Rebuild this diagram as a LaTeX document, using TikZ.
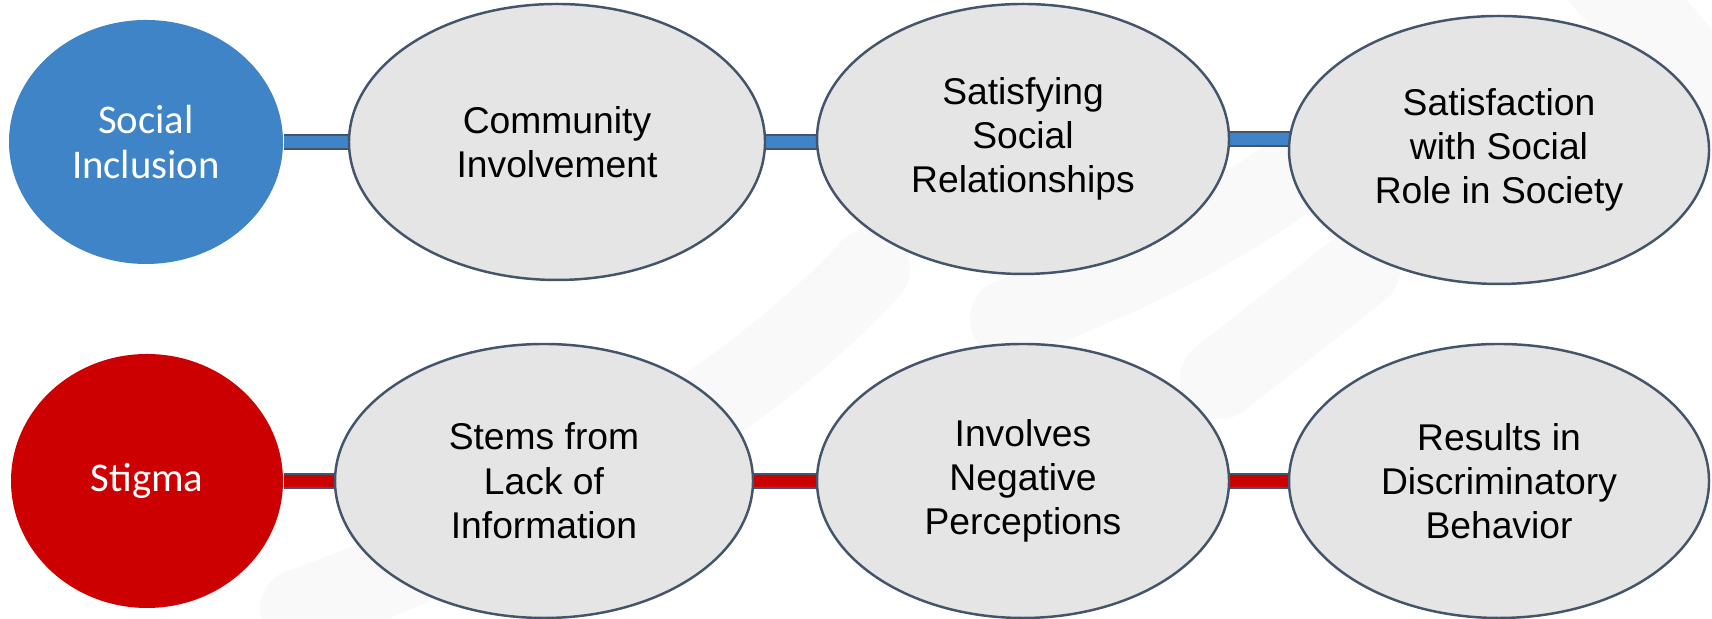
\documentclass[tikz,border=0pt]{standalone}
\usepackage{fontspec}
\setmainfont{Liberation Sans}
\newfontfamily\calibri{Carlito}
\usepackage{tikz}
\usetikzlibrary{shapes.geometric,backgrounds}
\definecolor{inclblue}{RGB}{62,132,198}
\definecolor{stigred}{RGB}{204,0,0}
\definecolor{ovalgray}{RGB}{229,229,229}
\definecolor{slate}{RGB}{68,84,106}
\definecolor{swoosh}{RGB}{249,249,249}
\tikzstyle{oval} = [ellipse, draw=slate, line width=0.7pt, fill=ovalgray, inner sep=0pt, align=center, font=\fontsize{10.6}{12.6}\selectfont]
\tikzstyle{head} = [ellipse, inner sep=0pt, align=center, text=white, font=\calibri\fontsize{11.6}{12.6}\selectfont]
\tikzstyle{bar} = [line width=0.6pt, draw=slate, double distance=0.12cm]

\begin{document}
\begin{tikzpicture}
	\useasboundingbox (0,0) rectangle (17.12,6.19);
	\begin{scope}[on background layer]
	\fill[white] (0,0) rectangle (17.12,6.19);
	% faint watermark
	\draw[swoosh, line width=0.8cm, line cap=round] (3.0,0.1) .. controls (5.5,1.0) and (7.5,2.2) .. (8.7,3.5);
	\draw[swoosh, line width=0.8cm, line cap=round] (10.1,3.0) .. controls (11.2,3.4) and (12.2,3.9) .. (13.0,4.5);
	\draw[swoosh, line width=0.8cm, line cap=round] (12.2,2.4) -- (13.6,3.5);
	\draw[swoosh, line width=0.9cm, line cap=round] (16.0,6.5) -- (17.3,5.0);
	\end{scope}
	% top row
	\node[head, fill=inclblue, minimum width=2.74cm, minimum height=2.44cm] (si) at (1.46,4.77) {Social\\Inclusion};
	\node[oval, minimum width=4.16cm, minimum height=2.76cm] (ci) at (5.57,4.77) {Community\\Involvement};
	\node[oval, minimum width=4.12cm, minimum height=2.70cm] (ssr) at (10.23,4.80) {Satisfying\\Social\\Relationships};
	\node[oval, minimum width=4.20cm, minimum height=2.68cm] (role) at (14.99,4.69) {Satisfaction\\with Social\\Role in Society};
	% bottom row
	\node[head, fill=stigred, minimum width=2.72cm, minimum height=2.54cm] (stig) at (1.47,1.38) {Stigma};
	\node[oval, minimum width=4.18cm, minimum height=2.74cm] (stem) at (5.44,1.38) {Stems from\\Lack of\\Information};
	\node[oval, minimum width=4.12cm, minimum height=2.74cm] (neg) at (10.23,1.38) {Involves\\Negative\\Perceptions};
	\node[oval, minimum width=4.20cm, minimum height=2.74cm] (res) at (14.99,1.38) {Results in\\Discriminatory\\Behavior};
	\begin{scope}[on background layer]
	\draw[bar, double=inclblue] (si) -- (si -| ci);
	\draw[bar, double=inclblue] (ci) -- (ci -| ssr);
	\draw[bar, double=inclblue] (ssr) -- (ssr -| role);
	\draw[bar, double=stigred] (stig) -- (stem);
	\draw[bar, double=stigred] (stem) -- (neg);
	\draw[bar, double=stigred] (neg) -- (res);
	\end{scope}
\end{tikzpicture}
\end{document}
